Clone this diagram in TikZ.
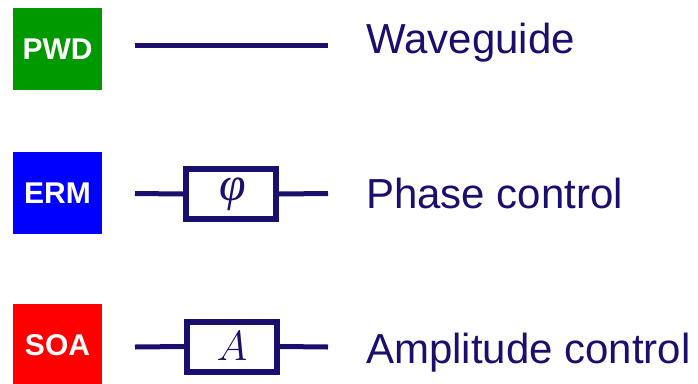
\RequirePackage{fix-cm}
\documentclass[tikz,border=0pt]{standalone}
\usepackage{fontspec}
\setmainfont{Liberation Sans}
\newfontfamily\greekserif{Liberation Serif}
\usepackage{tikz}
\usetikzlibrary{positioning}
\definecolor{navy}{RGB}{26,14,110}
\definecolor{pwdgreen}{RGB}{0,153,0}
\tikzset{
    device/.style={rectangle, fill=#1, text=white, minimum width=89pt, minimum height=82pt, inner sep=0pt, font=\fontsize{30}{36}\selectfont\bfseries},
    wire/.style={draw=navy, line width=5pt},
    ctrl/.style={rectangle, draw=navy, line width=6pt, fill=white, minimum width=90pt, minimum height=50pt, inner sep=0pt, text=navy, font=\fontsize{42}{50}\selectfont},
    caption/.style={anchor=base west, text=navy, inner sep=0pt, font=\fontsize{42}{50}\selectfont},
}

\begin{document}
\begin{tikzpicture}[x=1pt, y=-1pt]
    \useasboundingbox (0,0) rectangle (698,383);

    % Device blocks
    \node[device=pwdgreen] (pwd) at (57.5,49) {PWD};
    \node[device=blue] (erm) at (57.5,193) {ERM};
    \node[device=red] (soa) at (57.5,345) {SOA};

    % Waveguide
    \coordinate (wgin) at (135,45);
    \coordinate (wgout) at (328,45);
    \draw[wire] (wgin) -- (wgout);

    % Phase control
    \node[ctrl, font=\fontsize{48}{56}\selectfont\greekserif\itshape] (phi) at (231,194) {\raisebox{-2pt}{\hspace{4pt}φ}};
    \coordinate (phiin) at (135,193.5);
    \coordinate (phiout) at (328,193.5);
    \draw[wire] (phiin) -- (phi.west);
    \draw[wire] (phi.east) -- (phiout);

    % Amplitude control
    \node[ctrl] (amp) at (232,346.5) {$A$};
    \coordinate (ampin) at (135,347);
    \coordinate (ampout) at (328,347);
    \draw[wire] (ampin) -- (amp.west);
    \draw[wire] (amp.east) -- (ampout);

    % Captions
    \node[caption] (wglabel) at (366,53) {Waveguide};
    \node[caption] (philabel) at (366,208) {Phase control};
    \node[caption] (amplabel) at (366,363) {Amplitude control};
\end{tikzpicture}
\end{document}
